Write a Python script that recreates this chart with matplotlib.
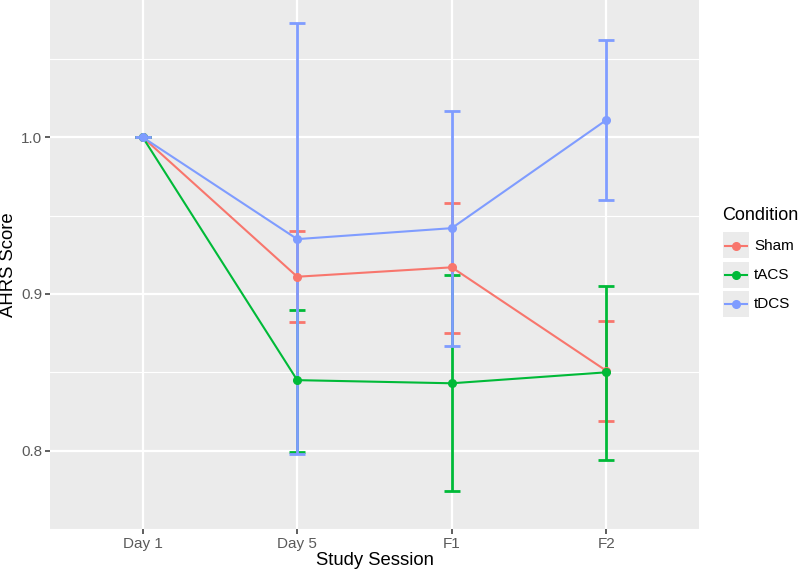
import numpy as np
import matplotlib.pyplot as plt
from matplotlib.patches import Rectangle
from matplotlib.lines import Line2D

plt.rcParams['font.family'] = ['Liberation Sans', 'DejaVu Sans']

sessions = ["Day 1", "Day 5", "F1", "F2"]
conditions = ["Sham", "tACS", "tDCS"]
colors = {"Sham": "#F8766D", "tACS": "#00BA38", "tDCS": "#7F9CFF"}

# mean score and error bar limits
means = {
    "Sham": [1.0, 0.911, 0.917, 0.851],
    "tACS": [1.0, 0.845, 0.843, 0.850],
    "tDCS": [1.0, 0.935, 0.942, 1.011],
}
lower = {
    "Sham": [1.0, 0.882, 0.875, 0.819],
    "tACS": [1.0, 0.799, 0.7745, 0.794],
    "tDCS": [1.0, 0.798, 0.867, 0.960],
}
upper = {
    "Sham": [1.0, 0.940, 0.958, 0.883],
    "tACS": [1.0, 0.890, 0.912, 0.905],
    "tDCS": [1.0, 1.0727, 1.017, 1.062],
}

fig = plt.figure(figsize=(8, 5.72), dpi=100)
ax = fig.add_axes([50/800, 43/572, 649/800, 529/572])
ax.set_facecolor("#EBEBEB")
for s in ax.spines.values():
    s.set_visible(False)

x = np.arange(len(sessions))
for c in conditions:
    m = np.array(means[c])
    lo = np.array(lower[c])
    hi = np.array(upper[c])
    ax.errorbar(x, m, yerr=[m - lo, hi - m], fmt="none", ecolor=colors[c],
                elinewidth=2, capsize=5.8, capthick=2, zorder=3)
    ax.plot(x, m, color=colors[c], lw=1.5, marker="o", ms=5.5, zorder=4)

# limits like ggplot (5% expansion on data, 0.6 on discrete axis)
allv = np.concatenate([np.array(lower[c] + upper[c]) for c in conditions])
r = allv.max() - allv.min()
ax.set_ylim(allv.min() - 0.05 * r, allv.max() + 0.05 * r)
ax.set_xlim(-0.6, len(sessions) - 0.4)

ax.set_yticks([0.8, 0.9, 1.0])
ax.set_yticklabels(["0.8", "0.9", "1.0"])
ax.set_yticks([0.75, 0.85, 0.95, 1.05], minor=True)
ax.set_xticks(x)
ax.set_xticklabels(sessions)
ax.grid(which="major", color="white", lw=1.6, zorder=0)
ax.grid(which="minor", axis="y", color="white", lw=0.8, zorder=0)
ax.set_axisbelow(True)
ax.tick_params(axis="both", which="major", colors="#333333", length=3.5, width=1.1,
               labelsize=11, labelcolor="#5A5A5A", pad=2)
ax.tick_params(axis="y", which="minor", length=0)

ax.set_xlabel("Study Session", fontsize=13.3, color="black", labelpad=1)
ax.set_ylabel("AHRS Score", fontsize=13.3, color="black", labelpad=3)

# legend with grey key boxes
W, H = 800, 572
fig.text(722/W, 1 - 216/H, "Condition", fontsize=13, va="center", ha="left")
key_centers = [245.5, 274.7, 304]
for c, yc in zip(conditions, key_centers):
    fig.patches.append(Rectangle((723/W, 1 - (yc + 13)/H), 26/W, 26/H,
                                 transform=fig.transFigure, facecolor="#EBEBEB",
                                 edgecolor="none"))
    fig.lines.append(Line2D([725/W, 747/W], [1 - yc/H, 1 - yc/H],
                            transform=fig.transFigure, color=colors[c], lw=1.5))
    fig.lines.append(Line2D([736/W], [1 - yc/H], transform=fig.transFigure,
                            color=colors[c], marker="o", ms=5.5, lw=0))
    fig.text(754/W, 1 - yc/H, c, fontsize=11, va="center", ha="left", color="black")

fig.savefig("out.png", dpi=100)
